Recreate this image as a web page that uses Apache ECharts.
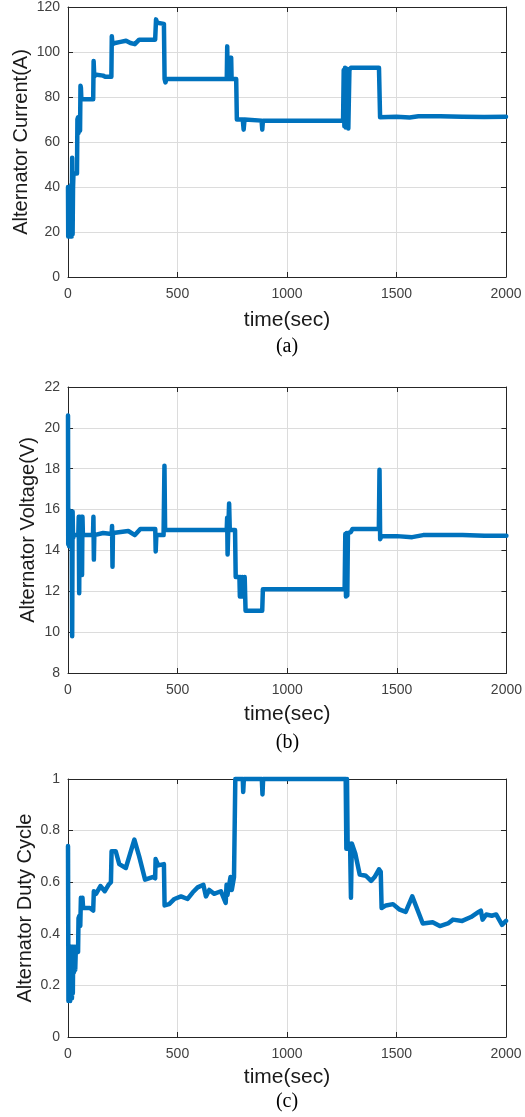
<!DOCTYPE html>
<html>
<head>
<meta charset="utf-8">
<script src="https://cdn.jsdelivr.net/npm/echarts@6/dist/echarts.min.js"></script>
<style>
  html, body { margin: 0; padding: 0; background: #ffffff; }
  #chart { width: 525px; height: 1117px; }
</style>
</head>
<body>
<div id="chart"></div>
<script>
// Alternator current over the drive cycle
const timeCurrent = [
  0, 1, 3, 5, 7, 9, 11, 13, 15, 17,
  19, 21, 23, 25, 27, 41, 43, 46, 48, 52,
  55, 57, 59, 61, 115, 117, 120, 123, 130, 160,
  170, 198, 200, 203, 215, 240, 265, 285, 305, 325,
  398, 402, 407, 412, 438, 441, 445, 449, 725, 727,
  729, 743, 745, 747, 768, 771, 798, 802, 806, 884,
  887, 890, 1256, 1259, 1262, 1265, 1268, 1271, 1274, 1277,
  1280, 1285, 1292, 1420, 1425, 1500, 1560, 1600, 1700, 1800,
  1900, 2000
];
const current = [
  40, 18, 39, 19, 40, 18, 38, 19, 41, 18,
  53, 19, 40, 46, 46, 46, 70, 71, 64, 70,
  65, 85, 84, 79, 79, 96, 89, 90, 89.5, 89.5,
  89, 89, 107, 103.5, 104, 104.5, 105, 104, 103.5, 105.5,
  105.5, 114.5, 113, 112.5, 112.5, 88, 86.5, 88, 88, 102.5,
  88, 88, 97.5, 88, 88, 70, 70, 65.5, 70, 69.5,
  65.5, 69.5, 69.5, 92, 67, 93, 66.5, 92, 67, 92.5,
  66, 92, 93, 93, 71, 71.2, 70.9, 71.4, 71.4, 71.2,
  71.1, 71.2
];

// Alternator voltage over the drive cycle
const timeVoltage = [
  0, 1, 3, 5, 7, 9, 11, 13, 15, 17,
  19, 21, 23, 26, 47, 49, 51, 53, 55, 61,
  63, 64, 66, 68, 114, 116, 118, 120, 160, 199,
  201, 203, 205, 240, 275, 305, 330, 398, 400, 403,
  436, 440, 443, 724, 726, 728, 731, 735, 738, 762,
  765, 782, 784, 788, 792, 796, 800, 806, 810, 886,
  889, 1262, 1265, 1268, 1271, 1274, 1277, 1290, 1298, 1418,
  1421, 1424, 1430, 1500, 1570, 1620, 1800, 1900, 2000
];
const voltage = [
  20.6, 14.3, 16, 14.2, 15.8, 14.4, 15.9, 14.5, 15.8, 14.6,
  9.8, 15.9, 14.6, 14.75, 14.75, 15.65, 11.9, 15.65, 14.75, 14.75,
  15.65, 12.8, 15.65, 14.75, 14.75, 15.65, 13.55, 14.75, 14.85, 14.8,
  15.2, 13.2, 14.85, 14.9, 14.95, 14.75, 15.05, 15.05, 13.95, 14.75,
  14.75, 18.15, 15.0, 15.0, 15.6, 13.8, 15.0, 16.3, 15.0, 15.0,
  12.7, 12.7, 11.75, 12.7, 11.75, 12.7, 11.75, 12.7, 11.05, 11.05,
  12.1, 12.1, 14.8, 11.75, 14.85, 11.8, 14.85, 14.9, 15.05, 15.05,
  17.95, 14.55, 14.7, 14.7, 14.65, 14.75, 14.75, 14.72, 14.72
];

// Alternator duty cycle over the drive cycle
const timeDuty = [
  0, 2, 4, 6, 8, 10, 12, 14, 16, 18,
  20, 22, 24, 27, 30, 33, 36, 44, 46, 48,
  52, 56, 59, 62, 66, 69, 100, 115, 118, 128,
  148, 168, 185, 196, 199, 218, 234, 264, 303, 325,
  352, 386, 398, 400, 412, 438, 441, 462, 486, 516,
  546, 569, 592, 618, 630, 645, 667, 698, 720, 724,
  728, 742, 748, 758, 764, 798, 800, 803, 885, 888,
  891, 1268, 1271, 1274, 1277, 1282, 1288, 1292, 1296, 1312,
  1332, 1360, 1384, 1400, 1420, 1428, 1432, 1452, 1484, 1512,
  1542, 1572, 1620, 1665, 1698, 1735, 1758, 1800, 1840, 1875,
  1885, 1893, 1910, 1935, 1955, 1982, 2000
];
const duty = [
  0.74, 0.14, 0.35, 0.15, 0.33, 0.14, 0.35, 0.16, 0.34, 0.15,
  0.35, 0.17, 0.35, 0.25, 0.35, 0.26, 0.35, 0.35, 0.33, 0.46,
  0.47, 0.43, 0.54, 0.5, 0.54, 0.5, 0.5, 0.49, 0.565, 0.555,
  0.585, 0.565, 0.59, 0.6, 0.72, 0.72, 0.67, 0.655, 0.765, 0.7,
  0.61, 0.62, 0.615, 0.69, 0.665, 0.67, 0.51, 0.515, 0.535, 0.545,
  0.535, 0.56, 0.58, 0.59, 0.545, 0.57, 0.555, 0.565, 0.52, 0.59,
  0.55, 0.62, 0.57, 0.62, 1.0, 1.0, 0.95, 1.0, 1.0, 0.94,
  1.0, 1.0, 0.73, 1.0, 0.73, 0.73, 0.75, 0.54, 0.75, 0.71,
  0.63, 0.625, 0.605, 0.62, 0.65, 0.64, 0.5, 0.51, 0.515, 0.495,
  0.485, 0.545, 0.44, 0.445, 0.43, 0.44, 0.455, 0.45, 0.465, 0.485,
  0.49, 0.455, 0.475, 0.47, 0.475, 0.435, 0.45
];

// Shared x-axis ticks
const timeMin = 0, timeMax = 2000, timeStep = 500;

const FONT = '"Liberation Sans", Arial, Helvetica, sans-serif';
const LINE_COLOR = '#0072BD';
const AXIS_COLOR = '#262626';
const GRID_COLOR = '#dcdcdc';

const panels = [
  { t: timeCurrent, v: current, top: 7, height: 270, width: 438,
    yMin: 0, yMax: 120, yStep: 20, yName: 'Alternator Current(A)', yNameGap: 37,
    xNameGap: 33, tag: '(a)', tagY: 347 },
  { t: timeVoltage, v: voltage, top: 387, height: 286, width: 439,
    yMin: 8, yMax: 22, yStep: 2, yName: 'Alternator Voltage(V)', yNameGap: 30,
    xNameGap: 31, tag: '(b)', tagY: 743 },
  { t: timeDuty, v: duty, top: 779, height: 258, width: 438,
    yMin: 0, yMax: 1, yStep: 0.2, yName: 'Alternator Duty Cycle', yNameGap: 33,
    xNameGap: 30, tag: '(c)', tagY: 1102 }
];

const plainNumber = (val) => String(val);

const grid = [], xAxis = [], yAxis = [], series = [], graphic = [];

panels.forEach((p, i) => {
  grid.push({ left: 68, top: p.top, width: p.width, height: p.height, containLabel: false });

  const tickStyle = { show: true, inside: true, length: 5, lineStyle: { color: AXIS_COLOR, width: 1 } };
  const lineStyle = { show: true, onZero: false, lineStyle: { color: AXIS_COLOR, width: 1 } };

  // bottom time axis
  xAxis.push({
    type: 'value', gridIndex: i, position: 'bottom',
    min: timeMin, max: timeMax, interval: timeStep,
    axisLine: lineStyle, axisTick: tickStyle,
    axisLabel: { color: '#404040', fontSize: 14, fontFamily: FONT, margin: 10, formatter: plainNumber },
    splitLine: { show: true, lineStyle: { color: GRID_COLOR, width: 1 } },
    name: 'time(sec)', nameLocation: 'middle', nameGap: p.xNameGap, nameMoveOverlap: false,
    nameTextStyle: { color: '#1a1a1a', fontSize: 21, fontFamily: FONT }
  });
  // top frame
  xAxis.push({
    type: 'value', gridIndex: i, position: 'top',
    min: timeMin, max: timeMax, interval: timeStep,
    axisLine: lineStyle, axisTick: tickStyle,
    axisLabel: { show: false }, splitLine: { show: false }
  });
  // left value axis
  yAxis.push({
    type: 'value', gridIndex: i, position: 'left',
    min: p.yMin, max: p.yMax, interval: p.yStep,
    axisLine: lineStyle, axisTick: tickStyle,
    axisLabel: { color: '#404040', fontSize: 14, fontFamily: FONT, margin: 8, formatter: plainNumber },
    splitLine: { show: true, lineStyle: { color: GRID_COLOR, width: 1 } },
    name: p.yName, nameLocation: 'middle', nameGap: p.yNameGap, nameMoveOverlap: false,
    nameTextStyle: { color: '#1a1a1a', fontSize: 20, fontFamily: FONT }
  });
  // right frame
  yAxis.push({
    type: 'value', gridIndex: i, position: 'right',
    min: p.yMin, max: p.yMax, interval: p.yStep,
    axisLine: lineStyle, axisTick: tickStyle,
    axisLabel: { show: false }, splitLine: { show: false }
  });

  series.push({
    type: 'line', xAxisIndex: 2 * i, yAxisIndex: 2 * i,
    data: p.t.map((t, k) => [t, p.v[k]]),
    showSymbol: false, symbol: 'none', clip: false, silent: true,
    lineStyle: { color: LINE_COLOR, width: 4.5, join: 'round', cap: 'round' },
    animation: false
  });

  graphic.push({
    type: 'text', x: 68 + p.width / 2, y: p.tagY,
    style: {
      text: p.tag, fill: '#000000',
      font: '20px "Liberation Serif", "Times New Roman", serif',
      align: 'center', verticalAlign: 'middle'
    }
  });
});

const chart = echarts.init(document.getElementById('chart'), null, { renderer: 'canvas' });
chart.setOption({
  backgroundColor: '#ffffff',
  animation: false,
  grid, xAxis, yAxis, series, graphic
});
</script>
</body>
</html>
